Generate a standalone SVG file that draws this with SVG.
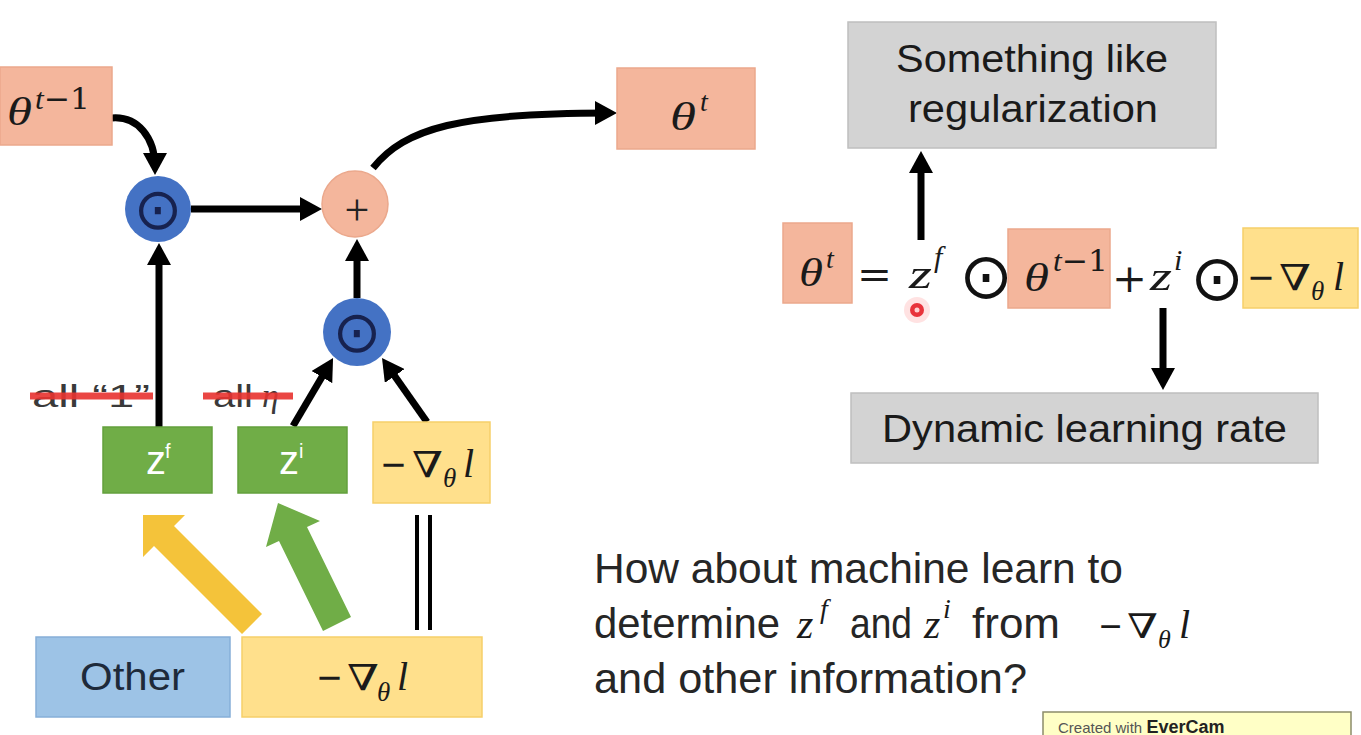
<svg xmlns="http://www.w3.org/2000/svg" width="1361" height="735" viewBox="0 0 1361 735">
<defs>
<marker id="ah" markerUnits="userSpaceOnUse" markerWidth="22" markerHeight="24" viewBox="0 0 22 24" refX="14" refY="12" orient="auto">
<path d="M0,0 L22,12 L0,24 z" fill="#000"/>
</marker>
<style>
.salmon{fill:#F4B69C;stroke:#EBA88C;stroke-width:1.5}
.yellow{fill:#FFE08C;stroke:#F6CF6A;stroke-width:1.5}
.green{fill:#70AD47;stroke:#63A03C;stroke-width:1.5}
.gray{fill:#D3D3D3;stroke:#BFBFBF;stroke-width:1.5}
.blue{fill:#4472C4}
.other{fill:#9DC3E6;stroke:#86AFD8;stroke-width:1.5}
.m{font-family:"Liberation Serif","DejaVu Serif",serif;font-style:italic;fill:#1a1a1a}
.u{font-family:"DejaVu Serif","Liberation Serif",serif;font-style:normal;fill:#1a1a1a}
.op{font-family:"DejaVu Sans",sans-serif;fill:#111}
.s{font-family:"Liberation Sans",Arial,sans-serif;fill:#262626}
.w{font-family:"Liberation Sans",Arial,sans-serif;fill:#fff}
.conn{fill:none;stroke:#000;stroke-width:7}
.strike{stroke:#E8332F;stroke-width:7;opacity:0.9}
</style>
</defs>
<rect width="1361" height="735" fill="#fff"/>

<g id="connectors">
<path class="conn" d="M112,118 C138,116 155,138 155,167" marker-end="url(#ah)"/>
<path class="conn" d="M191,209 L314,209" marker-end="url(#ah)"/>
<path class="conn" d="M373,168 C405,128 460,113 609,113" marker-end="url(#ah)"/>
<path class="conn" d="M357,298 L357,247" marker-end="url(#ah)"/>
<path class="conn" d="M159,430 L159,251" marker-end="url(#ah)"/>
<path class="conn" d="M293,426 L329,365" marker-end="url(#ah)"/>
<path class="conn" d="M427,422 L386.6,364.5" marker-end="url(#ah)"/>
<path class="conn" d="M921,240 L921,159" marker-end="url(#ah)"/>
<path class="conn" d="M1163,308 L1163,382" marker-end="url(#ah)"/>
<line x1="417" y1="515" x2="417" y2="630" stroke="#000" stroke-width="4"/>
<line x1="430" y1="515" x2="430" y2="630" stroke="#000" stroke-width="4"/>
<polygon points="143,515 185,515 174,526 262,614 242,634 154,546 143,557" fill="#F4C33A"/>
<polygon points="278,503 320,521 307,527 351,617 323,631 279,541 266,547" fill="#70AD47"/>
</g>

<g id="theta_prev">
<rect class="salmon" x="0" y="67" width="112" height="78"/>
<text class="m" x="7" y="125" font-size="40" textLength="25" lengthAdjust="spacingAndGlyphs">θ</text>
<text class="m" x="35" y="109" font-size="30" textLength="55" lengthAdjust="spacingAndGlyphs">t<tspan class="u" font-style="normal">−1</tspan></text>
</g>

<g id="mul1">
<circle class="blue" cx="158" cy="209" r="33"/>
<text class="op" x="158" y="209" font-size="58" text-anchor="middle" dominant-baseline="central" style="fill:#17224F">⊙</text>
</g>

<g id="plus">
<circle class="salmon" cx="355" cy="204" r="33"/>
<text x="357" y="225" font-size="44" text-anchor="middle" font-family="Liberation Serif,serif" fill="#222">+</text>
</g>

<g id="theta_t">
<rect class="salmon" x="617" y="68" width="138" height="81"/>
<text class="m" x="670" y="130" font-size="40" textLength="26" lengthAdjust="spacingAndGlyphs">θ</text>
<text class="m" x="700" y="111" font-size="28">t</text>
</g>

<g id="mul2">
<circle class="blue" cx="357" cy="332" r="34"/>
<text class="op" x="357" y="332" font-size="58" text-anchor="middle" dominant-baseline="central" style="fill:#17224F">⊙</text>
</g>

<g id="label_all1">
<text class="s" x="32" y="407" font-size="32" textLength="118" lengthAdjust="spacingAndGlyphs" style="fill:#3a3a3a">all “1”</text>
<line class="strike" x1="30" y1="396" x2="153" y2="396"/>
</g>

<g id="label_alleta">
<text class="s" x="213" y="407" font-size="32" textLength="40" lengthAdjust="spacingAndGlyphs" style="fill:#3a3a3a">all</text>
<text class="m" x="262" y="407" font-size="34" style="fill:#3a3a3a">η</text>
<line class="strike" x1="203" y1="396" x2="293" y2="396"/>
</g>

<g id="zf">
<rect class="green" x="103" y="427" width="109" height="66"/>
<text class="w" x="146" y="474" font-size="40">z</text>
<text class="w" x="165" y="458" font-size="20">f</text>
</g>

<g id="zi">
<rect class="green" x="238" y="427" width="109" height="66"/>
<text class="w" x="279" y="474" font-size="40">z</text>
<text class="w" x="299" y="458" font-size="20">i</text>
</g>

<g id="grad_top">
<rect class="yellow" x="373" y="422" width="117" height="81"/>
<text class="u" x="380" y="477" font-size="38" textLength="27" lengthAdjust="spacingAndGlyphs">−</text>
<text class="u" x="412" y="477" font-size="36" textLength="31" lengthAdjust="spacingAndGlyphs">∇</text>
<text class="m" x="443" y="487" font-size="27">θ</text>
<text class="m" x="463" y="477" font-size="40">l</text>
</g>

<g id="other">
<rect class="other" x="36" y="637" width="194" height="80"/>
<text class="s" x="80" y="690" font-size="38" textLength="105" lengthAdjust="spacingAndGlyphs" style="fill:#1e2a3a">Other</text>
</g>

<g id="grad_bottom">
<rect class="yellow" x="242" y="637" width="240" height="80"/>
<text class="u" x="316" y="690" font-size="38" textLength="27" lengthAdjust="spacingAndGlyphs">−</text>
<text class="u" x="347" y="690" font-size="36" textLength="32" lengthAdjust="spacingAndGlyphs">∇</text>
<text class="m" x="377" y="701" font-size="27">θ</text>
<text class="m" x="397" y="690" font-size="40">l</text>
</g>

<g id="regularization">
<rect class="gray" x="848" y="22" width="368" height="126"/>
<text class="s" x="1032" y="72" font-size="38" text-anchor="middle" textLength="272" lengthAdjust="spacingAndGlyphs" style="fill:#1a1a1a">Something like</text>
<text class="s" x="1033" y="122" font-size="38" text-anchor="middle" textLength="250" lengthAdjust="spacingAndGlyphs" style="fill:#1a1a1a">regularization</text>
</g>

<g id="dynamic_lr">
<rect class="gray" x="851" y="393" width="467" height="70"/>
<text class="s" x="882" y="442" font-size="38" textLength="405" lengthAdjust="spacingAndGlyphs" style="fill:#1a1a1a">Dynamic learning rate</text>
</g>

<g id="equation">
<rect class="salmon" x="783" y="223" width="69" height="80"/>
<text class="m" x="799" y="286" font-size="40" textLength="24" lengthAdjust="spacingAndGlyphs">θ</text>
<text class="m" x="826" y="268" font-size="28">t</text>
<text class="u" x="857" y="288" font-size="40" textLength="35" lengthAdjust="spacingAndGlyphs">=</text>
<text class="m" x="909" y="288" font-size="42" textLength="23" lengthAdjust="spacingAndGlyphs">z</text>
<text class="m" x="934" y="267" font-size="30">f</text>
<text class="op" x="986" y="276" font-size="64" text-anchor="middle" dominant-baseline="central">⊙</text>
<rect class="salmon" x="1008" y="229" width="102" height="79"/>
<text class="m" x="1024" y="291" font-size="40" textLength="25" lengthAdjust="spacingAndGlyphs">θ</text>
<text class="m" x="1053" y="271" font-size="30" textLength="55" lengthAdjust="spacingAndGlyphs">t<tspan class="u" font-style="normal">−1</tspan></text>
<text class="u" x="1112" y="292" font-size="40" textLength="35" lengthAdjust="spacingAndGlyphs">+</text>
<text class="m" x="1150" y="290" font-size="42" textLength="22" lengthAdjust="spacingAndGlyphs">z</text>
<text class="m" x="1174" y="270" font-size="30">i</text>
<text class="op" x="1217" y="278" font-size="64" text-anchor="middle" dominant-baseline="central">⊙</text>
<rect class="yellow" x="1243" y="228" width="115" height="80"/>
<text class="u" x="1247" y="290" font-size="38" textLength="28" lengthAdjust="spacingAndGlyphs">−</text>
<text class="u" x="1279" y="290" font-size="36" textLength="32" lengthAdjust="spacingAndGlyphs">∇</text>
<text class="m" x="1311" y="300" font-size="27">θ</text>
<text class="m" x="1333" y="290" font-size="40">l</text>
</g>

<g id="cursor">
<circle cx="917" cy="310" r="13" fill="#FF3B3B" opacity="0.15"/>
<circle cx="917" cy="310" r="7" fill="#E8333B"/>
<circle cx="917" cy="310" r="2.5" fill="#FFD0D0"/>
</g>

<g id="question">
<text class="s" x="594" y="583" font-size="42" textLength="529" lengthAdjust="spacingAndGlyphs">How about machine learn to</text>
<text class="s" x="594" y="638" font-size="42" textLength="186" lengthAdjust="spacingAndGlyphs">determine</text>
<text class="m" x="797" y="638" font-size="42">z</text>
<text class="m" x="820" y="618" font-size="28">f</text>
<text class="s" x="850" y="638" font-size="42" textLength="62" lengthAdjust="spacingAndGlyphs">and</text>
<text class="m" x="924" y="638" font-size="42">z</text>
<text class="m" x="943" y="618" font-size="28">i</text>
<text class="s" x="972" y="638" font-size="42" textLength="88" lengthAdjust="spacingAndGlyphs">from</text>
<text class="u" x="1098" y="638" font-size="36" textLength="25" lengthAdjust="spacingAndGlyphs">−</text>
<text class="u" x="1127" y="638" font-size="34" textLength="31" lengthAdjust="spacingAndGlyphs">∇</text>
<text class="m" x="1158" y="648" font-size="26">θ</text>
<text class="m" x="1179" y="638" font-size="40">l</text>
<text class="s" x="594" y="693" font-size="42" textLength="433" lengthAdjust="spacingAndGlyphs">and other information?</text>
</g>

<g id="evercam">
<rect x="1043" y="712" width="308" height="30" fill="#FFFFC6" stroke="#8C8C6A" stroke-width="1.5"/>
<text class="s" x="1058" y="733" font-size="15" style="fill:#555">Created with <tspan font-weight="bold" font-size="18" style="fill:#222">EverCam</tspan></text>
</g>
</svg>
